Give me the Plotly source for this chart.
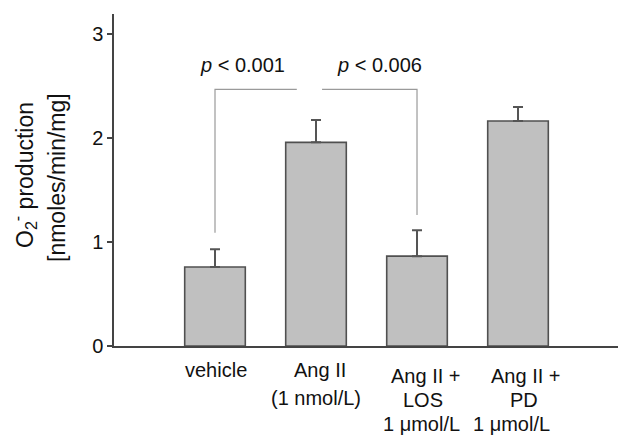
import plotly.graph_objects as go

# ---- data ----
categories = ["vehicle", "Ang II", "Ang II + LOS", "Ang II + PD"]
label_lines = [["vehicle"], ["Ang II", "(1 nmol/L)"], ["Ang II +", "LOS", "1 μmol/L"], ["Ang II +", "PD", "1 μmol/L"]]
means = [0.76, 1.96, 0.865, 2.165]
sem = [0.17, 0.215, 0.25, 0.135]
y_ticks = [0, 1, 2, 3]
p_labels = ["<i>p</i> < 0.001", "<i>p</i> < 0.006"]

FONT = "Liberation Sans, Arial, sans-serif"
xs = list(range(len(categories)))

W, H = 618, 435
ml, mr, mt, mb = 114, 0, 14, 89
pw, ph = W - ml - mr, H - mt - mb
UNIT = 103.9  # px per y unit


def py(pix):
    """pixel row -> paper y"""
    return (H - mb - pix) / ph


def px(pix):
    return (pix - ml) / pw


fig = go.Figure()
fig.add_trace(go.Bar(
    x=xs, y=means, width=0.6,
    marker=dict(color="#c0c0c0", line=dict(color="#505050", width=1.6)),
    error_y=dict(type="data", symmetric=False, array=sem, arrayminus=[0] * len(sem),
                 color="#555555", thickness=2, width=5),
    showlegend=False,
))

# significance brackets
line_style = dict(color="#9a9a9a", width=1.2)
bracket_y = 2.47
fig.add_shape(type="path", xref="x", yref="y",
              path=f"M 0,1.09 L 0,{bracket_y} L 0.81,{bracket_y}", line=line_style)
fig.add_shape(type="path", xref="x", yref="y",
              path=f"M 1.06,{bracket_y} L 2,{bracket_y} L 2,1.26", line=line_style)

annotations = []
for xp, txt in zip([0.27, 1.63], p_labels):
    annotations.append(dict(x=xp, y=2.70, xref="x", yref="y", text=txt, showarrow=False,
                            xanchor="center", yanchor="middle",
                            font=dict(family=FONT, size=20, color="#111111")))

# category labels (pixel rows of each line)
line_rows = {1: [370], 2: [370, 398], 3: [376, 400, 424]}
xshifts = [[1], [4, 0], [9, 6, 4], [8, 6, -7]]
for i, lines in enumerate(label_lines):
    rows = line_rows[len(lines)]
    for j, t in enumerate(lines):
        annotations.append(dict(x=xs[i], y=py(rows[j]), xref="x", yref="paper", text=t, showarrow=False,
                                xshift=xshifts[i][j], xanchor="center", yanchor="middle",
                                font=dict(family=FONT, size=20, color="#111111")))

# y-axis title as two rotated lines
annotations.append(dict(x=px(24), y=py(175), xref="paper", yref="paper",
                        text="O<sub>2</sub><sup>-</sup> production", xanchor="center", yanchor="middle",
                        showarrow=False, textangle=-90, font=dict(family=FONT, size=23, color="#111111")))
annotations.append(dict(x=px(57), y=py(178), xref="paper", yref="paper", text="[nmoles/min/mg]",
                        xanchor="center", yanchor="middle",
                        showarrow=False, textangle=-90, font=dict(family=FONT, size=23, color="#111111")))

fig.update_layout(
    width=W, height=H,
    margin=dict(l=ml, r=mr, t=mt, b=mb),
    paper_bgcolor="white", plot_bgcolor="white",
    annotations=annotations,
    xaxis=dict(range=[-1.0, 3.99], showticklabels=False, ticks="", showgrid=False, zeroline=False,
               showline=True, linecolor="#444444", linewidth=1.5),
    yaxis=dict(range=[0, ph / UNIT], tickvals=y_ticks, ticks="outside", ticklen=5, tickwidth=1.5,
               tickcolor="#444444", showgrid=False, zeroline=False, showline=True,
               linecolor="#444444", linewidth=1.5,
               tickfont=dict(family=FONT, size=20, color="#111111")),
    font=dict(family=FONT),
)

fig.write_html("out.html", config={"displayModeBar": False},
               post_script="document.body.style.margin='0';document.body.style.overflow='hidden';")
